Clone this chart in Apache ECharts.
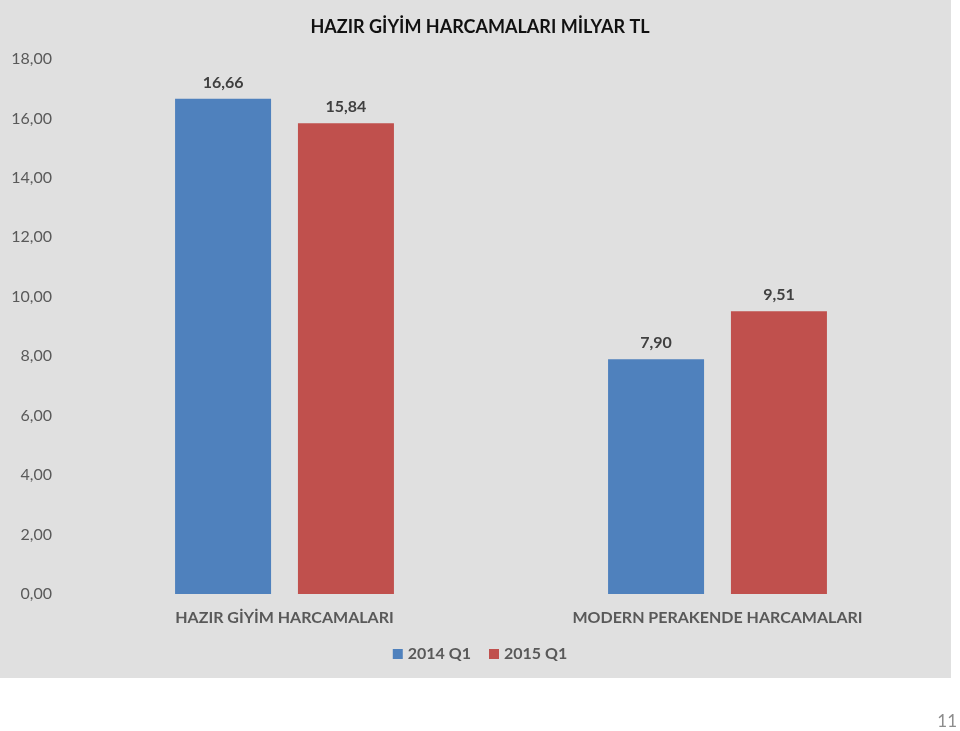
<!DOCTYPE html>
<html>
<head>
<meta charset="utf-8">
<script src="https://cdn.jsdelivr.net/npm/echarts@6/dist/echarts.min.js"></script>
<style>
html,body{margin:0;padding:0;background:#fff;}
#main{width:960px;height:731px;}
</style>
</head>
<body>
<div id="main"></div>
<script>
const titleText = 'HAZIR GİYİM HARCAMALARI MİLYAR TL';
const categories = ['HAZIR GİYİM HARCAMALARI', 'MODERN PERAKENDE HARCAMALARI'];
const seriesNames = ['2014 Q1', '2015 Q1'];
const values2014 = [16.66, 7.90];
const values2015 = [15.84, 9.51];
const pageNumber = '11';

const fmt = v => v.toFixed(2).replace('.', ',');
const FONT = 'Lato, "Open Sans", sans-serif';

const chart = echarts.init(document.getElementById('main'));
chart.setOption({
  backgroundColor: '#ffffff',
  animation: false,
  textStyle: { fontFamily: FONT },
  graphic: [
    { type: 'rect', z: -10, silent: true, shape: { x: 0, y: 0, width: 951, height: 678 }, style: { fill: '#e0e0e0' } },
    { type: 'text', right: 3, top: 713, style: { text: pageNumber, fill: '#8c8c8c', font: '17px ' + FONT } }
  ],
  title: {
    text: titleText, left: 'center', top: 13,
    textStyle: { fontSize: 18, fontWeight: 'bold', color: '#111', fontFamily: FONT }
  },
  legend: {
    data: seriesNames, bottom: 64, left: 'center', itemWidth: 10, itemHeight: 10, itemGap: 18, icon: 'rect',
    textStyle: { fontSize: 16, fontWeight: 'bold', color: '#595959', fontFamily: FONT }
  },
  grid: { left: 68, right: 26, top: 59, bottom: 137, containLabel: false },
  xAxis: {
    type: 'category', data: categories,
    axisLine: { show: false }, axisTick: { show: false },
    axisLabel: { fontSize: 16, fontWeight: 'bold', color: '#595959', margin: 16, fontFamily: FONT }
  },
  yAxis: {
    type: 'value', min: 0, max: 18, interval: 2,
    splitLine: { show: false }, axisLine: { show: false }, axisTick: { show: false },
    axisLabel: { fontSize: 16, color: '#595959', margin: 16, formatter: v => fmt(v), fontFamily: FONT }
  },
  series: [
    {
      name: seriesNames[0], type: 'bar', data: values2014, barWidth: 96, barGap: '28%',
      itemStyle: { color: '#4f81bd' },
      label: { show: true, position: 'top', distance: 8, formatter: p => fmt(p.value), fontSize: 16, fontWeight: 'bold', color: '#404040', fontFamily: FONT }
    },
    {
      name: seriesNames[1], type: 'bar', data: values2015, barWidth: 96, barGap: '28%',
      itemStyle: { color: '#c0504d' },
      label: { show: true, position: 'top', distance: 8, formatter: p => fmt(p.value), fontSize: 16, fontWeight: 'bold', color: '#404040', fontFamily: FONT }
    }
  ]
});
</script>
</body>
</html>
